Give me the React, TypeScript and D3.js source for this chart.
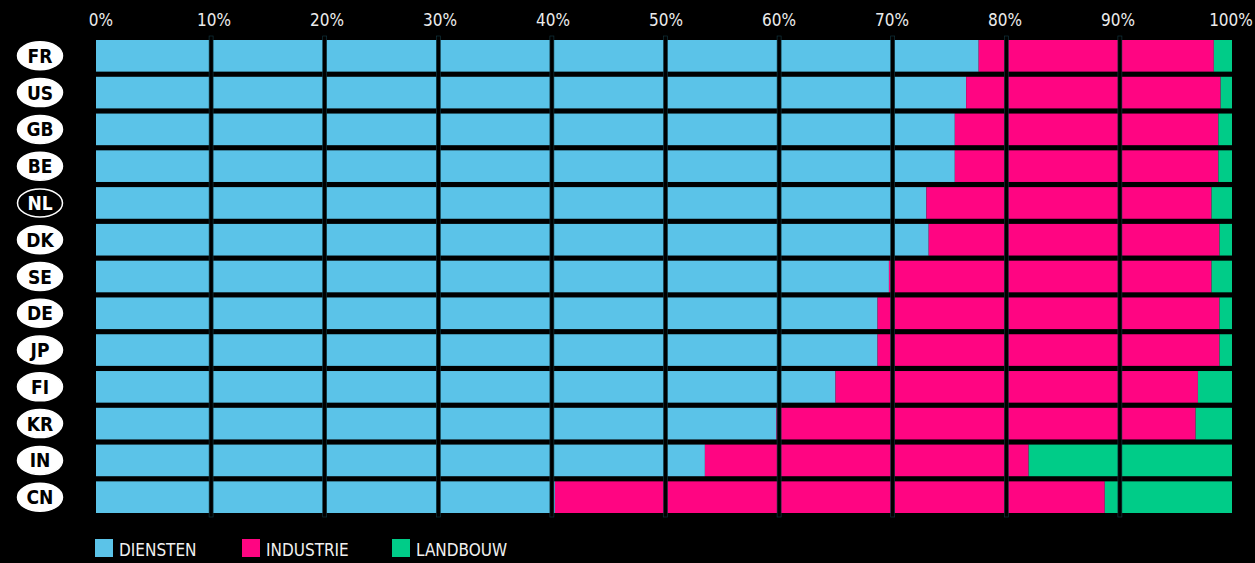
import React, { useEffect, useRef } from 'react';
import * as d3 from 'd3';

const countries = ['FR', 'US', 'GB', 'BE', 'NL', 'DK', 'SE', 'DE', 'JP', 'FI', 'KR', 'IN', 'CN'];
const diensten = [77.7, 76.6, 75.6, 75.6, 73.1, 73.3, 69.8, 68.8, 68.8, 65.1, 59.9, 53.6, 40.4];
const industrie = [20.7, 22.4, 23.2, 23.2, 25.1, 25.6, 28.4, 30.1, 30.1, 31.9, 36.9, 28.5, 48.4];
const landbouw = [1.6, 1.0, 1.2, 1.2, 1.8, 1.1, 1.8, 1.1, 1.1, 3.0, 3.2, 17.9, 11.2];
const sectors = ['DIENSTEN', 'INDUSTRIE', 'LANDBOUW'];
const colors = ['#5bc3e8', '#ff0582', '#00cc88'];
const ticks = [0, 10, 20, 30, 40, 50, 60, 70, 80, 90, 100];
const highlight = 'NL';

const FONT = '"DejaVu Sans Condensed", "Liberation Sans Narrow", sans-serif';

function App() {
    const ref = useRef(null);

    useEffect(() => {
        const svg = d3.select(ref.current);
        svg.selectAll('*').remove();

        const width = 1255;
        const height = 563;

        const x = d3.scaleLinear().domain([0, 100]).range([96, 1232]);
        const y = d3.scaleBand().domain(countries).range([40, 513]).paddingInner(0.14).paddingOuter(0);

        svg.append('rect').attr('width', width).attr('height', height).attr('fill', '#000');

        const rows = countries.map((c, i) => ({
            c,
            vals: [diensten[i], industrie[i], landbouw[i]],
        }));

        // stacked bars
        const g = svg.append('g');
        rows.forEach(r => {
            let acc = 0;
            r.vals.forEach((v, k) => {
                g.append('rect')
                    .attr('x', x(acc))
                    .attr('y', y(r.c))
                    .attr('width', x(acc + v) - x(acc))
                    .attr('height', y.bandwidth())
                    .attr('fill', colors[k]);
                acc += v;
            });
        });

        // black gridlines over the bars
        svg.append('g')
            .selectAll('rect')
            .data(ticks.filter(t => t > 0 && t < 100))
            .join('rect')
            .attr('x', d => x(d) - 0.5)
            .attr('y', 36)
            .attr('width', 4)
            .attr('height', 481)
            .attr('fill', '#000')
            .attr('stroke', '#123a44')
            .attr('stroke-width', 0.6);

        // top tick labels (last one pulled in so it stays on the page)
        svg.append('g')
            .selectAll('text')
            .data(ticks)
            .join('text')
            .attr('x', d => x(d) + 5 - d * 0.06)
            .attr('y', 26)
            .attr('text-anchor', 'middle')
            .attr('fill', '#ececec')
            .attr('font-family', FONT)
            .attr('font-size', 17)
            .text(d => d + '%');

        // country badges
        const lab = svg.append('g')
            .selectAll('g')
            .data(countries)
            .join('g')
            .attr('transform', d => `translate(40,${y(d) + y.bandwidth() / 2})`);

        lab.append('ellipse')
            .attr('rx', 22.5)
            .attr('ry', 14)
            .attr('fill', d => d === highlight ? '#000' : '#fff')
            .attr('stroke', '#fff')
            .attr('stroke-width', 1.5);

        lab.append('text')
            .attr('text-anchor', 'middle')
            .attr('dy', '0.37em')
            .attr('fill', d => d === highlight ? '#fff' : '#000')
            .attr('font-family', FONT)
            .attr('font-weight', 'bold')
            .attr('font-size', 19)
            .text(d => d);

        // legend
        const legX = [95, 242, 392];
        const leg = svg.append('g')
            .selectAll('g')
            .data(sectors)
            .join('g')
            .attr('transform', (d, i) => `translate(${legX[i]},539)`);

        leg.append('rect')
            .attr('width', 18)
            .attr('height', 18)
            .attr('fill', (d, i) => colors[i]);

        leg.append('text')
            .attr('x', 24)
            .attr('y', 17)
            .attr('fill', '#f0f0f0')
            .attr('font-family', FONT)
            .attr('font-size', 17)
            .text(d => d);
    }, []);

    return (
        <div style={{ position: 'fixed', left: 0, top: 0 }}>
            <svg ref={ref} width={1255} height={563} style={{ display: 'block' }} />
        </div>
    );
}

export default App;
